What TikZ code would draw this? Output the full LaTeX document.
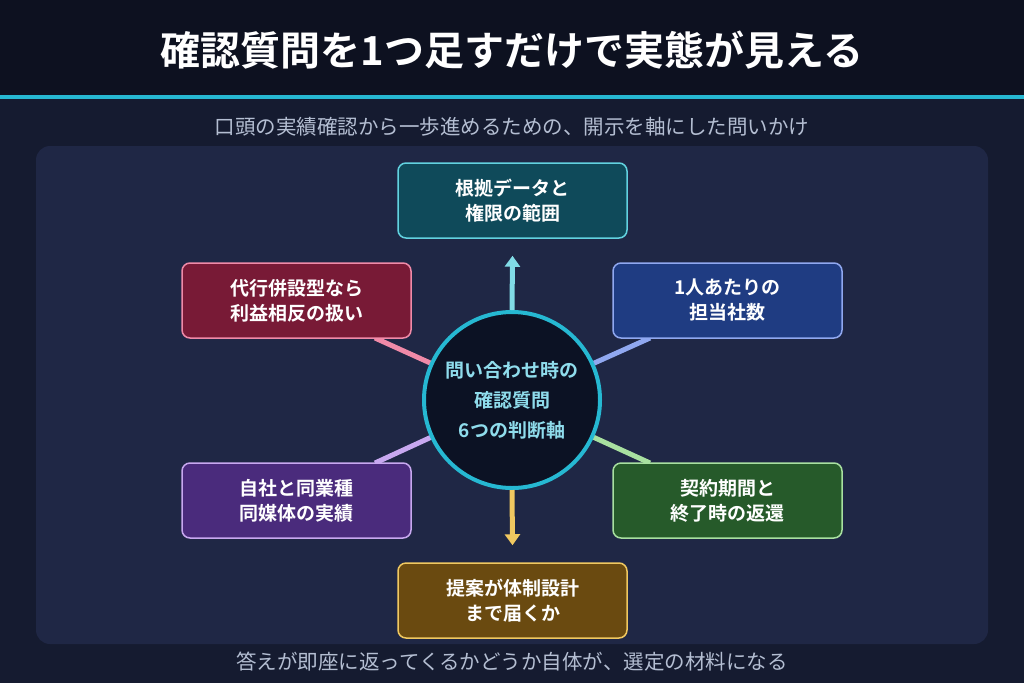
\documentclass[tikz,border=0pt]{standalone}
\usepackage{fontspec}
\setmainfont{Noto Sans CJK JP}
\newfontfamily\jpbold{Noto Sans CJK JP Bold}
\usetikzlibrary{arrows.meta}
\definecolor{bgnavy}{HTML}{151B30}
\definecolor{bandnavy}{HTML}{0D1120}
\definecolor{panelnavy}{HTML}{1F2745}
\definecolor{accentcyan}{HTML}{26B8D2}
\definecolor{subgray}{HTML}{B4BED2}
\definecolor{hubfill}{HTML}{0C1224}
\definecolor{hubtext}{HTML}{8FDCEC}
\definecolor{tealfill}{HTML}{0F4A5A}\definecolor{tealline}{HTML}{62D2E0}
\definecolor{bluefill}{HTML}{1F3C82}\definecolor{blueline}{HTML}{90A8F0}
\definecolor{redfill}{HTML}{781A36}\definecolor{redline}{HTML}{F08AA8}
\definecolor{purplefill}{HTML}{4A2B7C}\definecolor{purpleline}{HTML}{C8A8F0}
\definecolor{greenfill}{HTML}{265A2A}\definecolor{greenline}{HTML}{A8E0A0}
\definecolor{brownfill}{HTML}{6A4A10}\definecolor{brownline}{HTML}{F0C860}
\tikzset{
  axisbox/.style={draw, line width=1.5pt, rounded corners=8pt, minimum width=229pt, minimum height=75pt,
    align=center, text=white, font=\jpbold\fontsize{19}{25}\selectfont},
  spoke/.style={line width=5pt},
  axisarrow/.style={line width=5pt, -{Triangle[length=11pt,width=15pt]}}
}
\begin{document}
\begin{tikzpicture}[x=1pt,y=-1pt]
  % Background
  \fill[bgnavy] (0,0) rectangle (1024,683);
  \fill[bandnavy] (0,0) rectangle (1024,95);
  \fill[accentcyan] (0,95) rectangle (1024,99);
  \node[text=white, font=\jpbold\fontsize{40}{46}\selectfont] (title) at (512,50) {確認質問を1つ足すだけで実態が見える};
  \node[text=subgray, font=\fontsize{20.5}{24}\selectfont] (subtitle) at (512,127) {口頭の実績確認から一歩進めるための、開示を軸にした問いかけ};
  \fill[panelnavy, rounded corners=14pt] (36,146) rectangle (988,644);
  \node[text=subgray, font=\fontsize{20.5}{24}\selectfont] (footer) at (512,662) {答えが即座に返ってくるかどうか自体が、選定の材料になる};

  % Coordinates
  \coordinate (c) at (512,400);
  \coordinate (ulend) at (375,338);
  \coordinate (urend) at (650,338);
  \coordinate (llend) at (375,463);
  \coordinate (lrend) at (650,463);

  % Spokes
  \draw[spoke, redline] (c) -- (ulend);
  \draw[spoke, blueline] (c) -- (urend);
  \draw[spoke, purpleline] (c) -- (llend);
  \draw[spoke, greenline] (c) -- (lrend);

  % Centre
  \node[circle, draw=accentcyan, line width=4pt, fill=hubfill, minimum size=176pt, inner sep=0pt, align=center,
    text=hubtext, font=\jpbold\fontsize{19}{30}\selectfont] (hub) at (c) {問い合わせ時の\\確認質問\\6つの判断軸};

  % Six axes
  \node[axisbox, fill=tealfill, draw=tealline] (data) at (512.5,200.5) {根拠データと\\権限の範囲};
  \node[axisbox, fill=bluefill, draw=blueline] (staff) at (727.5,300.5) {1人あたりの\\担当社数};
  \node[axisbox, fill=redfill, draw=redline] (conflict) at (296.5,300.5) {代行併設型なら\\利益相反の扱い};
  \node[axisbox, fill=purplefill, draw=purpleline] (record) at (296.5,500.5) {自社と同業種\\同媒体の実績};
  \node[axisbox, fill=greenfill, draw=greenline] (contract) at (727.5,500.5) {契約期間と\\終了時の返還};
  \node[axisbox, fill=brownfill, draw=brownline] (reach) at (512.5,600.5) {提案が体制設計\\まで届くか};

  % Vertical arrows
  \draw[axisarrow, color=tealline!80!white] (hub.north) -- ([yshift=-17pt]data.south);
  \draw[axisarrow, color=brownline] (hub.south) -- ([yshift=17pt]reach.north);
\end{tikzpicture}
\end{document}
